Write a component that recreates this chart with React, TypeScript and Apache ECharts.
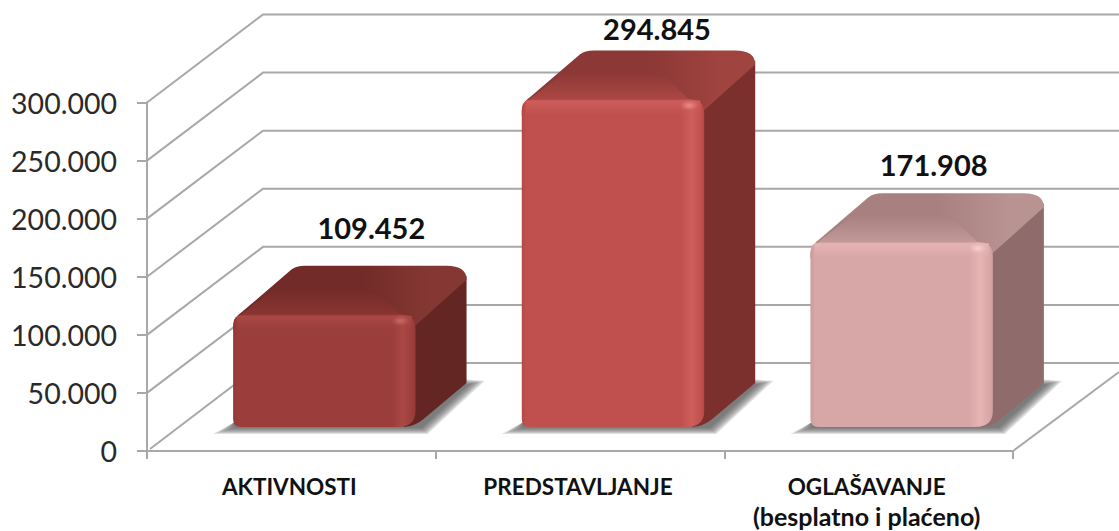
import React, { useEffect, useRef } from "react";
import * as echarts from "echarts";

const categories = ["AKTIVNOSTI", "PREDSTAVLJANJE", "OGLAŠAVANJE\n(besplatno i plaćeno)"];
const values = [109452, 294845, 171908];
const gridValues = [0, 50000, 100000, 150000, 200000, 250000, 300000];

const palettes = [
  { front: "#9b3d3b", light: "#aa4845", edge: "#923836", glow: "#c76a66", side: "#632622", topA: "#722b28", topB: "#853833", bevel: "#8a3533" },
  { front: "#c0504d", light: "#cd5e5b", edge: "#b34845", glow: "#ec8a86", side: "#7b302d", topA: "#8c3836", topB: "#a0443f", bevel: "#ad4845" },
  { front: "#d7a6a6", light: "#e6b4b3", edge: "#cc9c9c", glow: "#f5d0cf", side: "#8f6b6b", topA: "#a88080", topB: "#b99292", bevel: "#c29a9a" },
];
const labelGaps = [38, 22, 29];
const labelShifts = [47, 44, 32];

const DEPTH_X = 116;
const DEPTH_Y = 88;
const BAR_DX = 51;
const BAR_DY = 49;
const FONT = "Lato, Carlito, 'Open Sans', sans-serif";

const fmt = (v: number) => String(v).replace(/\B(?=(\d{3})+(?!\d))/g, ".");

function renderGrid(params: any, api: any) {
  const cs = params.coordSys;
  const y = api.coord([0, api.value(1)])[1];
  const isFloor = api.value(1) === 0;
  const lineStyle = { stroke: "#a8a8a8", lineWidth: 2, fill: "none" };
  const children: any[] = [
    {
      type: "polyline",
      shape: {
        points: [
          [cs.x + (isFloor ? 3 : 0), y - (isFloor ? 2 : 0)],
          [cs.x + DEPTH_X, y - DEPTH_Y],
          [1119, y - DEPTH_Y],
        ],
      },
      style: lineStyle,
      silent: true,
    },
  ];
  if (isFloor) {
    const x1 = cs.x + cs.width;
    children.push({
      type: "line",
      shape: { x1, y1: y, x2: x1 + 106, y2: y - 79 },
      style: lineStyle,
      silent: true,
    });
  }
  return { type: "group", children };
}

function renderBar(params: any, api: any) {
  const i = api.value(0);
  const v = api.value(1);
  const p = palettes[i];
  const c = api.coord([i, v]);
  const w = api.size([1, 0])[0] * 0.632;
  const x0 = c[0] + 33 - w / 2;
  const x1 = x0 + w;
  const yT = c[1] - 9;
  const yB = api.coord([i, 0])[1] - 24;
  const dx = BAR_DX;
  const dy = BAR_DY;

  const shadowLayers = [0, 1, 2, 3, 4, 5, 6].map((k) => ({
    type: "path",
    silent: true,
    shape: {
      pathData: `M${x0 - 20 + k * 3.5} ${yB + 7 - k} L${x1 + 12 - k} ${yB + 7 - k} L${x1 + dx + 18 - k * 2.5} ${yB - 46 + k * 0.5} L${x1 + dx - 4} ${yB - 48 + k} L${x1} ${yB - 8} L${x0} ${yB - 4} Z`,
    },
    style: { fill: "#555555", opacity: 0.18 },
  }));

  const side = `M${x1 - 8} ${yT + 8} L${x1 + dx} ${yT - dy + 10} L${x1 + dx} ${yB - 44} L${x1 + 8} ${yB - 8} Q${x1} ${yB - 1} ${x1 - 12} ${yB} Z`;
  const top = `M${x0} ${yT + 12} Q${x0} ${yT + 3} ${x0 + 9} ${yT - 3} L${x0 + 58} ${yT - dy + 4} Q${x0 + 63} ${yT - dy} ${x0 + 72} ${yT - dy} L${x1 + dx - 20} ${yT - dy} Q${x1 + dx} ${yT - dy} ${x1 + dx} ${yT - dy + 14} L${x1 - 6} ${yT + 16} L${x0} ${yT + 16} Z`;
  const bevel = `M${x0 + 6} ${yT + 1} L${x0 + 40} ${yT - 25} Q${x0 + 44} ${yT - 27} ${x0 + 50} ${yT - 27} L${x1 - 50} ${yT - 27} Q${x1 - 44} ${yT - 26} ${x1 - 38} ${yT - 22} L${x1 - 14} ${yT + 1} Z`;
  const front = `M${x0} ${yT + 10} Q${x0} ${yT} ${x0 + 10} ${yT} L${x1 - 14} ${yT} Q${x1} ${yT} ${x1} ${yT + 14} L${x1} ${yB - 16} Q${x1} ${yB} ${x1 - 18} ${yB} L${x0 + 8} ${yB} Q${x0} ${yB} ${x0} ${yB - 8} Z`;

  const horiz = (stops: [number, string][]) => ({
    type: "linear", x: 0, y: 0, x2: 1, y2: 0,
    colorStops: stops.map(([offset, color]) => ({ offset, color })),
  });
  const vert = (stops: [number, string][]) => ({
    type: "linear", x: 0, y: 0, x2: 0, y2: 1,
    colorStops: stops.map(([offset, color]) => ({ offset, color })),
  });

  return {
    type: "group",
    children: [
      ...shadowLayers,
      { type: "path", shape: { pathData: side }, silent: true, style: { fill: p.side } },
      {
        type: "path", shape: { pathData: top }, silent: true,
        style: { fill: horiz([[0, p.topA], [0.55, p.topA], [0.85, p.topB], [1, p.topB]]) },
      },
      {
        type: "path", shape: { pathData: bevel }, silent: true,
        style: { fill: vert([[0, p.topA], [1, p.bevel]]) },
      },
      {
        type: "path", shape: { pathData: front }, silent: true,
        style: {
          fill: horiz([
            [0, p.edge], [0.025, p.front], [0.87, p.front], [0.93, p.light],
            [0.985, p.front], [1, p.edge],
          ]),
        },
      },
      {
        type: "rect", shape: { x: x0 + 4, y: yT + 1, width: w - 8, height: 14 }, silent: true,
        style: {
          fill: {
            type: "linear", x: 0, y: 0, x2: 0, y2: 1,
            colorStops: [
              { offset: 0, color: p.light },
              { offset: 1, color: p.light + "00" },
            ],
          },
        },
      },
      {
        type: "ellipse", shape: { cx: x1 - 15, cy: yT + 6, rx: 9, ry: 5 }, silent: true,
        style: {
          fill: {
            type: "radial", x: 0.5, y: 0.5, r: 0.5,
            colorStops: [
              { offset: 0, color: p.glow },
              { offset: 1, color: p.glow + "00" },
            ],
          },
        },
      },
      {
        type: "text", silent: true,
        style: {
          x: x0 + w / 2 + labelShifts[i],
          y: yT - dy - labelGaps[i],
          text: fmt(v),
          fill: "#111111",
          font: `bold 29px ${FONT}`,
          textAlign: "center",
          textVerticalAlign: "middle",
        },
      },
    ],
  };
}

export default function App() {
  const ref = useRef<HTMLDivElement>(null);
  useEffect(() => {
    const chart = echarts.init(ref.current!, undefined, { renderer: "svg" });
    chart.setOption({
      animation: false,
      backgroundColor: "#ffffff",
      grid: { left: 147, right: 106, top: 102.5, bottom: 77, containLabel: false },
      xAxis: {
        type: "category",
        data: categories,
        axisLine: { lineStyle: { color: "#a8a8a8", width: 2 } },
        axisTick: { show: true, length: 8, alignWithLabel: false, lineStyle: { color: "#a8a8a8", width: 2 } },
        axisLabel: {
          interval: 0,
          hideOverlap: false,
          color: "#111111",
          fontFamily: FONT,
          fontWeight: "bold",
          fontSize: 22.5,
          lineHeight: 30,
          margin: 20,
          padding: [0, 4, 0, 0],
          formatter: (s: string) =>
            s
              .split("\n")
              .map((part, k) => (k === 0 ? `{a|${part}}` : `{b|${part}}`))
              .join("\n"),
          rich: {
            a: { fontFamily: FONT, fontWeight: "bold", fontSize: 22.5, lineHeight: 30, color: "#111111" },
            b: { fontFamily: FONT, fontWeight: "bold", fontSize: 25, lineHeight: 30, color: "#111111" },
          },
        },
      },
      yAxis: {
        type: "value",
        min: 0,
        max: 300000,
        interval: 50000,
        splitLine: { show: false },
        axisLine: { show: true, lineStyle: { color: "#a8a8a8", width: 2 } },
        axisTick: { show: true, length: 10, lineStyle: { color: "#a8a8a8", width: 2 } },
        axisLabel: {
          color: "#2a2a2a",
          fontFamily: FONT,
          fontSize: 28.5,
          margin: 30,
          padding: [3, 0, 0, 0],
          formatter: (v: number) => fmt(v),
        },
      },
      series: [
        {
          type: "custom",
          coordinateSystem: "cartesian2d",
          clip: false,
          silent: true,
          z: 1,
          encode: { x: 0, y: 1 },
          data: gridValues.map((v) => [0, v]),
          renderItem: renderGrid,
        },
        {
          type: "custom",
          coordinateSystem: "cartesian2d",
          clip: false,
          silent: true,
          z: 3,
          encode: { x: 0, y: 1 },
          data: values.map((v, i) => [i, v]),
          renderItem: renderBar,
        },
      ],
    });
    return () => chart.dispose();
  }, []);
  return (
    <div
      ref={ref}
      style={{ position: "absolute", left: 0, top: 0, width: 1119, height: 531 }}
    />
  );
}
